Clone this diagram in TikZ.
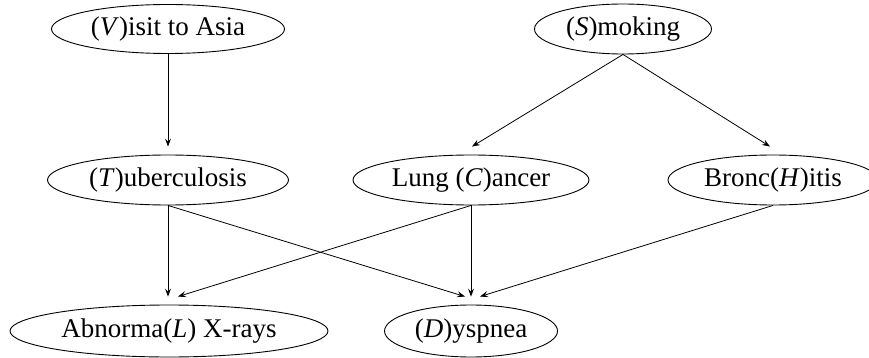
\documentclass[tikz,border=0pt]{standalone}
\usepackage{fontspec}
\setmainfont{Liberation Serif}
\usetikzlibrary{shapes.geometric,arrows.meta}
\begin{document}
\begin{tikzpicture}[x=1pt,y=-1pt,
  var/.style={draw,ellipse,inner sep=0pt,line width=0.9pt,font=\fontsize{27}{31}\selectfont},
  edge/.style={line width=0.8pt,-{Stealth[length=8pt,width=6pt,inset=3pt]}}]
\useasboundingbox (0,0) rectangle (869,358);
\node[var,minimum width=233pt,minimum height=49pt] (V) at (168,29) {(\textit{V})isit to Asia};
\node[var,minimum width=177pt,minimum height=50pt] (S) at (623,29) {(\textit{S})moking};
\node[var,minimum width=241pt,minimum height=50pt] (T) at (168,180) {(\textit{T})uberculosis};
\node[var,minimum width=236pt,minimum height=50pt] (C) at (471,180) {Lung (\textit{C})ancer};
\node[var,minimum width=210pt,minimum height=50pt] (H) at (773,180) {Bronc(\textit{H})itis};
\node[var,minimum width=318pt,minimum height=52pt] (L) at (169,331) {Abnorma(\textit{L}) X-rays};
\node[var,minimum width=173pt,minimum height=52pt] (D) at (471,331) {(\textit{D})yspnea};
\draw[edge] (V.south) -- ([yshift=8pt]T.north);
\draw[edge] (S.south) -- ([xshift=1pt,yshift=8pt]C.north);
\draw[edge] (S.south) -- ([xshift=-3pt,yshift=8pt]H.north);
\draw[edge] (T.south) -- ([xshift=-1pt,yshift=8pt]L.north);
\draw[edge] (T.south) -- ([xshift=-6pt,yshift=8pt]D.north);
\draw[edge] (C.south) -- ([xshift=9pt,yshift=8pt]L.north);
\draw[edge] (C.south) -- ([yshift=8pt]D.north);
\draw[edge] (H.south) -- ([xshift=9pt,yshift=8pt]D.north);
\end{tikzpicture}
\end{document}
